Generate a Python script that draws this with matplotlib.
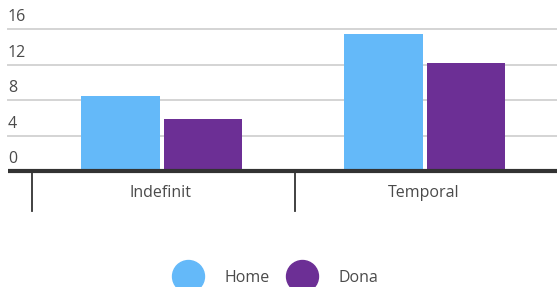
import matplotlib.pyplot as plt
from matplotlib.lines import Line2D
import numpy as np

plt.rcParams['font.family'] = ['Open Sans', 'DejaVu Sans']

categories = ['Indefinit', 'Temporal']
home = [8.5, 15.4]
dona = [5.9, 12.2]
series_names = ['Home', 'Dona']
yticks = [0, 4, 8, 12, 16]

c_home = '#64b9f9'
c_dona = '#6c2f95'
txt = '#4a4a4a'

fig = plt.figure(figsize=(5.57, 2.87), dpi=100)
ax = fig.add_axes([0, 0, 1, 1])
# whole figure is the axes: value v sits at pixel 171 - v*8.875
ax.set_ylim(-116 / 8.875, 171 / 8.875)
ax.set_xlim(-0.5 - 32 / 263, -0.5 + 525 / 263)
ax.axis('off')

x = np.arange(len(categories))
w = 0.30
ax.bar(x - 0.165, home, w, color=c_home, zorder=3)
ax.bar(x + 0.15, dona, w, color=c_dona, zorder=3)

# gridlines + labels sitting above them
x0 = -0.5 - 24 / 263
for t in yticks:
    if t > 0:
        ax.plot([x0, 1.6], [t, t], color='#d4d4d4', lw=1.4, zorder=1)
    ax.text(x0, t + 0.4, str(t), fontsize=11.5, color=txt, ha='left', va='bottom')

# baseline
ax.plot([x0, 1.6], [0, 0], color='#333333', lw=3, zorder=4, solid_capstyle='butt')

# category separators and labels
for b in [-0.5, 0.5, 1.5]:
    ax.plot([b, b], [0, -4.5], color='#333333', lw=1.3, zorder=4)
for xi, c in zip(x, categories):
    ax.text(xi - 0.01, -2.5, c, fontsize=11.5, color=txt, ha='center', va='center')

handles = [Line2D([], [], marker='o', ls='', markersize=23, color=c)
           for c in [c_home, c_dona]]
leg = fig.legend(handles, series_names, loc='center', bbox_to_anchor=(277 / 557, 1 - 278 / 287),
                 ncol=2, frameon=False, fontsize=11.5, handletextpad=1.5, columnspacing=1.3,
                 handlelength=1.5, labelcolor=txt)

fig.savefig('out.png', dpi=100)
